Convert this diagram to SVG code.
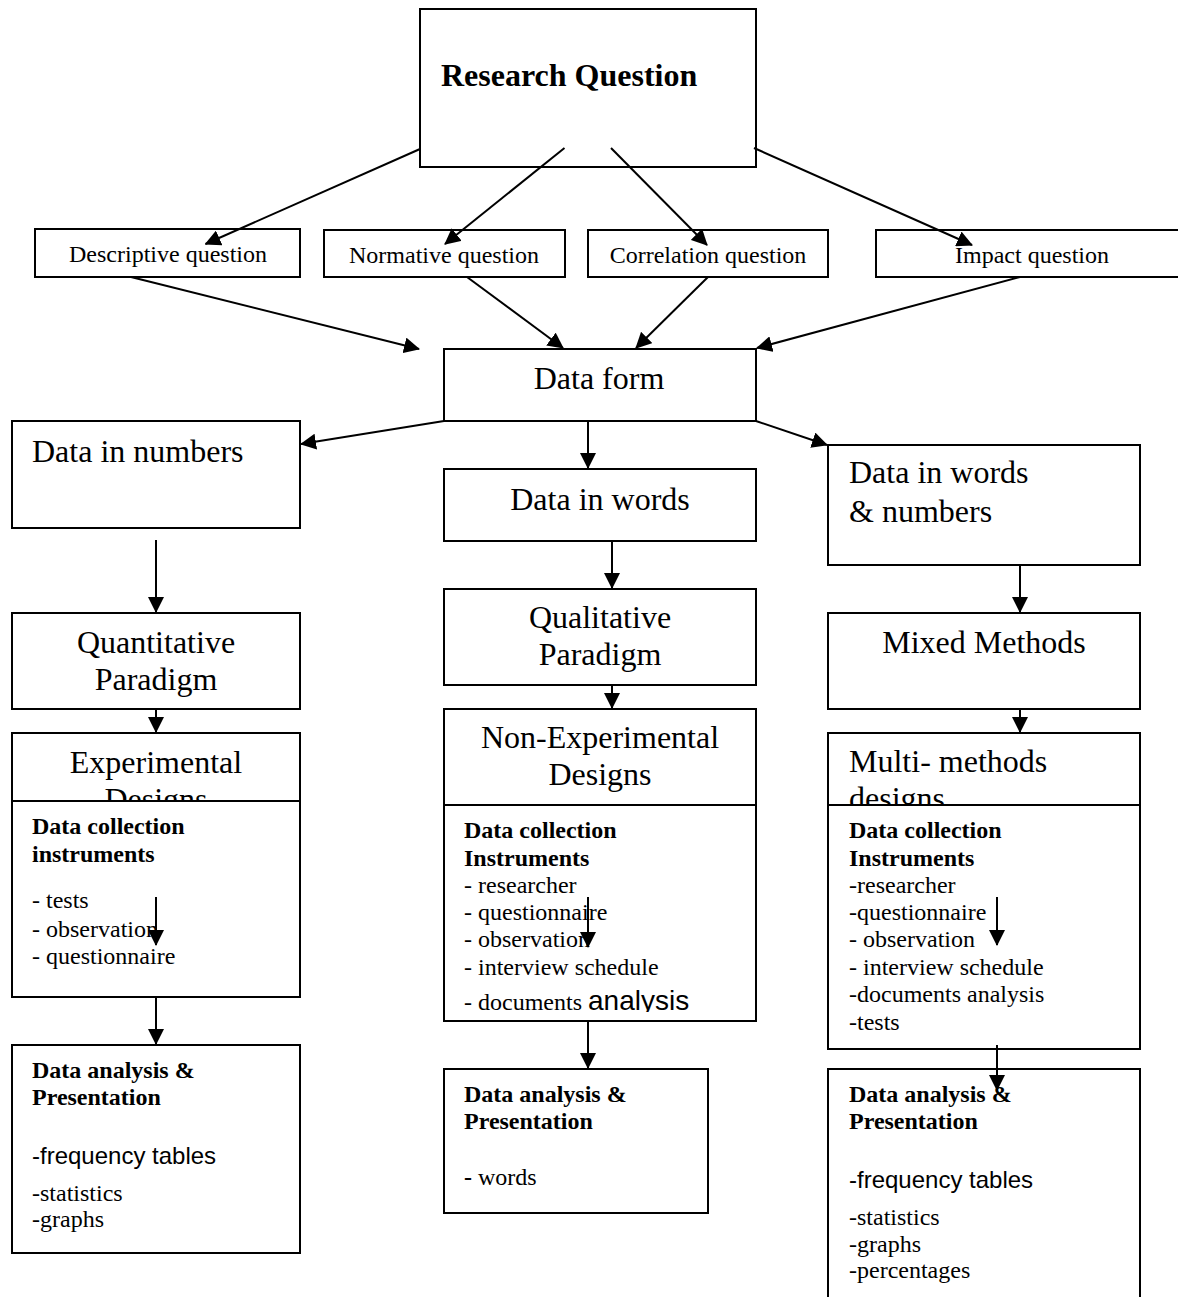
<svg xmlns="http://www.w3.org/2000/svg" width="1178" height="1297" viewBox="0 0 1178 1297">
<style>
.box{fill:#fff;stroke:#000;stroke-width:2}
.t{font-family:"Liberation Serif","Times New Roman",serif;fill:#000}
.big{font-size:32px}
.q{font-size:24px}
.s{font-size:24px}
.b{font-weight:bold}
.sans{font-family:"Liberation Sans",Arial,sans-serif;fill:#000}
.c{text-anchor:middle}
.con line{stroke:#000;stroke-width:2;marker-end:url(#ah)}
</style>
<defs>
<marker id="ah" viewBox="0 0 16 16" refX="15" refY="8" markerWidth="16" markerHeight="16" markerUnits="userSpaceOnUse" orient="auto">
<path d="M0,0 L16,8 L0,16 z" fill="#000"/>
</marker>
<clipPath id="clipDoc"><rect x="440" y="980" width="320" height="32"/></clipPath>
</defs>
<rect width="1178" height="1297" fill="#fff"/>

<g id="research-question">
<rect class="box" x="420" y="9" width="336" height="158"/>
<text class="t big b" x="441" y="86">Research Question</text>
</g>

<g id="descriptive">
<rect class="box" x="35" y="229" width="265" height="48"/>
<text class="t q c" x="168" y="262">Descriptive question</text>
</g>
<g id="normative">
<rect class="box" x="324" y="230" width="241" height="47"/>
<text class="t q c" x="444" y="263">Normative question</text>
</g>
<g id="correlation">
<rect class="box" x="588" y="230" width="240" height="47"/>
<text class="t q c" x="708" y="263">Correlation question</text>
</g>
<g id="impact">
<rect class="box" x="876" y="230" width="320" height="47"/>
<text class="t q c" x="1032" y="263">Impact question</text>
</g>

<g id="data-form">
<rect class="box" x="444" y="349" width="312" height="72"/>
<text class="t big c" x="599" y="389">Data form</text>
</g>

<g id="data-numbers">
<rect class="box" x="12" y="421" width="288" height="107"/>
<text class="t big" x="32" y="462">Data in numbers</text>
</g>
<g id="data-words">
<rect class="box" x="444" y="469" width="312" height="72"/>
<text class="t big c" x="600" y="510">Data in words</text>
</g>
<g id="data-words-numbers">
<rect class="box" x="828" y="445" width="312" height="120"/>
<text class="t big" x="849" y="483">Data in words</text>
<text class="t big" x="849" y="522">&amp; numbers</text>
</g>

<g id="quantitative">
<rect class="box" x="12" y="613" width="288" height="96"/>
<text class="t big c" x="156" y="653">Quantitative</text>
<text class="t big c" x="156" y="690">Paradigm</text>
</g>
<g id="qualitative">
<rect class="box" x="444" y="589" width="312" height="96"/>
<text class="t big c" x="600" y="628">Qualitative</text>
<text class="t big c" x="600" y="665">Paradigm</text>
</g>
<g id="mixed">
<rect class="box" x="828" y="613" width="312" height="96"/>
<text class="t big c" x="984" y="653">Mixed Methods</text>
</g>

<g id="experimental">
<rect class="box" x="12" y="733" width="288" height="90"/>
<text class="t big c" x="156" y="773">Experimental</text>
<text class="t big c" x="156" y="810">Designs</text>
</g>
<g id="non-experimental">
<rect class="box" x="444" y="709" width="312" height="110"/>
<text class="t big c" x="600" y="748">Non-Experimental</text>
<text class="t big c" x="600" y="785">Designs</text>
</g>
<g id="multi-methods">
<rect class="box" x="828" y="733" width="312" height="90"/>
<text class="t big" x="849" y="772">Multi- methods</text>
<text class="t big" x="849" y="809">designs</text>
</g>

<g id="collection-1">
<rect class="box" x="12" y="801" width="288" height="196"/>
<text class="t s b" x="32" y="834">Data collection</text>
<text class="t s b" x="32" y="862">instruments</text>
<text class="t s" x="32" y="908">- tests</text>
<text class="t s" x="32" y="937">- observation</text>
<text class="t s" x="32" y="964">- questionnaire</text>
</g>
<g id="collection-2">
<rect class="box" x="444" y="805" width="312" height="216"/>
<text class="t s b" x="464" y="838">Data collection</text>
<text class="t s b" x="464" y="866">Instruments</text>
<text class="t s" x="464" y="893">- researcher</text>
<text class="t s" x="464" y="920">- questionnaire</text>
<text class="t s" x="464" y="947">- observation</text>
<text class="t s" x="464" y="975">- interview schedule</text>
<g clip-path="url(#clipDoc)"><text class="t s" x="464" y="1010">- documents <tspan class="sans" font-size="28">analysis</tspan></text></g>
</g>
<g id="collection-3">
<rect class="box" x="828" y="805" width="312" height="244"/>
<text class="t s b" x="849" y="838">Data collection</text>
<text class="t s b" x="849" y="866">Instruments</text>
<text class="t s" x="849" y="893">-researcher</text>
<text class="t s" x="849" y="920">-questionnaire</text>
<text class="t s" x="849" y="947">- observation</text>
<text class="t s" x="849" y="975">- interview schedule</text>
<text class="t s" x="849" y="1002">-documents analysis</text>
<text class="t s" x="849" y="1030">-tests</text>
</g>

<g id="analysis-1">
<rect class="box" x="12" y="1045" width="288" height="208"/>
<text class="t s b" x="32" y="1078">Data analysis &amp;</text>
<text class="t s b" x="32" y="1105">Presentation</text>
<text class="sans" font-size="24" x="32" y="1164">-frequency tables</text>
<text class="t s" x="32" y="1201">-statistics</text>
<text class="t s" x="32" y="1227">-graphs</text>
</g>
<g id="analysis-2">
<rect class="box" x="444" y="1069" width="264" height="144"/>
<text class="t s b" x="464" y="1102">Data analysis &amp;</text>
<text class="t s b" x="464" y="1129">Presentation</text>
<text class="t s" x="464" y="1185"><tspan font-weight="bold">-</tspan> words</text>
</g>
<g id="analysis-3">
<rect class="box" x="828" y="1069" width="312" height="250"/>
<text class="t s b" x="849" y="1102">Data analysis &amp;</text>
<text class="t s b" x="849" y="1129">Presentation</text>
<text class="sans" font-size="24" x="849" y="1188">-frequency tables</text>
<text class="t s" x="849" y="1225">-statistics</text>
<text class="t s" x="849" y="1252">-graphs</text>
<text class="t s" x="849" y="1278">-percentages</text>
</g>

<g id="connectors" class="con">
<line x1="420" y1="149" x2="205.5" y2="244"/>
<line x1="564.5" y1="148" x2="445" y2="244"/>
<line x1="611" y1="148" x2="707" y2="245"/>
<line x1="754" y1="148" x2="972" y2="245"/>
<line x1="131" y1="277" x2="419" y2="349"/>
<line x1="467" y1="277" x2="563" y2="348"/>
<line x1="708" y1="277" x2="636" y2="348"/>
<line x1="1020" y1="277" x2="757" y2="348"/>
<line x1="444" y1="421" x2="301" y2="444"/>
<line x1="588" y1="421" x2="588" y2="468"/>
<line x1="756" y1="421" x2="827" y2="445"/>
<line x1="156" y1="540" x2="156" y2="612"/>
<line x1="156" y1="709" x2="156" y2="732"/>
<line x1="156" y1="897" x2="156" y2="945"/>
<line x1="156" y1="997" x2="156" y2="1044"/>
<line x1="612" y1="541" x2="612" y2="588"/>
<line x1="612" y1="685" x2="612" y2="708"/>
<line x1="588" y1="897" x2="588" y2="947"/>
<line x1="588" y1="1021" x2="588" y2="1068"/>
<line x1="1020" y1="565" x2="1020" y2="612"/>
<line x1="1020" y1="709" x2="1020" y2="732"/>
<line x1="997" y1="897" x2="997" y2="945"/>
<line x1="997" y1="1045" x2="997" y2="1090"/>
</g>
</svg>
